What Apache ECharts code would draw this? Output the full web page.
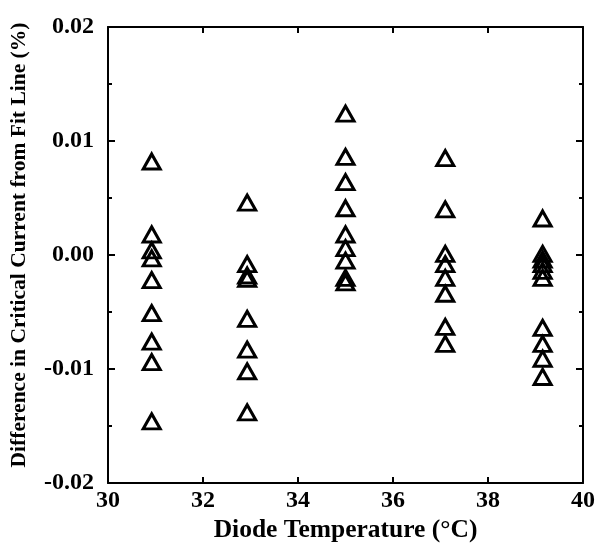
<!DOCTYPE html>
<html>
<head>
<meta charset="utf-8">
<script src="https://cdn.jsdelivr.net/npm/echarts@6/dist/echarts.min.js"></script>
<style>html,body{margin:0;padding:0;background:#fff;}#c{width:598px;height:552px;}</style>
</head>
<body>
<div id="c"></div>
<script>
// Diode temperatures (°C) of each measurement group
var temps = [30.92, 32.93, 35.0, 37.1, 39.15];
// Difference in critical current from fit line (%), per group
var group31 = [0.0082, 0.0018, 0.0004, -0.0003, -0.0022, -0.0051, -0.0076, -0.0094, -0.0146];
var group33 = [0.0046, -0.0008, -0.0018, -0.0021, -0.0056, -0.0083, -0.0102, -0.0138];
var group35 = [0.0124, 0.0086, 0.0064, 0.0041, 0.0018, 0.0006, -0.0005, -0.0020, -0.0024];
var group37 = [0.0085, 0.0040, 0.0001, -0.0008, -0.0020, -0.0034, -0.0063, -0.0078];
var group39 = [0.0032, 0.0001, -0.0004, -0.0008, -0.0014, -0.0020, -0.0064, -0.0078, -0.0091, -0.0107];
var groups = [group31, group33, group35, group37, group39];

var pts = [];
groups.forEach(function (g, i) {
  g.forEach(function (v) { pts.push([temps[i], v]); });
});

var font = '"Liberation Serif", "Times New Roman", serif';
var lineStyle = { color: '#000', width: 2 };
var chart = echarts.init(document.getElementById('c'), null, { renderer: 'canvas' });
chart.setOption({
  animation: false,
  backgroundColor: '#fff',
  grid: { left: 108, right: 15, top: 27, bottom: 69 },
  xAxis: [{
    type: 'value', min: 30, max: 40, interval: 2, position: 'bottom',
    name: 'Diode Temperature (°C)', nameLocation: 'middle', nameGap: 33,
    nameTextStyle: { fontFamily: font, fontWeight: 'bold', fontSize: 25.5, color: '#000' },
    axisLine: { show: true, onZero: false, lineStyle: lineStyle },
    axisTick: { show: true, inside: true, length: 6, lineStyle: lineStyle },
    axisLabel: { margin: 6, fontFamily: font, fontWeight: 'bold', fontSize: 24, color: '#000' },
    splitLine: { show: false }
  }, {
    type: 'value', min: 30, max: 40, interval: 2, position: 'top',
    axisLine: { show: true, onZero: false, lineStyle: lineStyle },
    axisTick: { show: true, inside: true, length: 6, lineStyle: lineStyle },
    axisLabel: { show: false },
    splitLine: { show: false }
  }],
  yAxis: [{
    type: 'value', min: -0.02, max: 0.02, interval: 0.01, position: 'left',
    name: 'Difference in Critical Current from Fit Line (%)', nameLocation: 'middle', nameGap: 78,
    nameTextStyle: { fontFamily: font, fontWeight: 'bold', fontSize: 21.5, color: '#000', padding: [0, 0, 0, 20] },
    axisLine: { show: true, onZero: false, lineStyle: lineStyle },
    axisTick: { show: true, inside: true, length: 7, lineStyle: lineStyle },
    minorTick: { show: true, splitNumber: 2, length: 4, lineStyle: lineStyle },
    axisLabel: { margin: 14, fontFamily: font, fontWeight: 'bold', fontSize: 24, color: '#000',
      formatter: function (v) { return v.toFixed(2); } },
    splitLine: { show: false }, minorSplitLine: { show: false }
  }, {
    type: 'value', min: -0.02, max: 0.02, interval: 0.01, position: 'right',
    axisLine: { show: true, onZero: false, lineStyle: lineStyle },
    axisTick: { show: true, inside: true, length: 7, lineStyle: lineStyle },
    minorTick: { show: true, splitNumber: 2, length: 4, lineStyle: lineStyle },
    axisLabel: { show: false },
    splitLine: { show: false }, minorSplitLine: { show: false }
  }],
  series: [{
    type: 'scatter',
    xAxisIndex: 0, yAxisIndex: 0,
    data: pts,
    symbol: 'triangle',
    symbolSize: [17, 15],
    itemStyle: { color: 'rgba(0,0,0,0)', borderColor: '#000', borderWidth: 3, opacity: 1 }
  }]
});
</script>
</body>
</html>
